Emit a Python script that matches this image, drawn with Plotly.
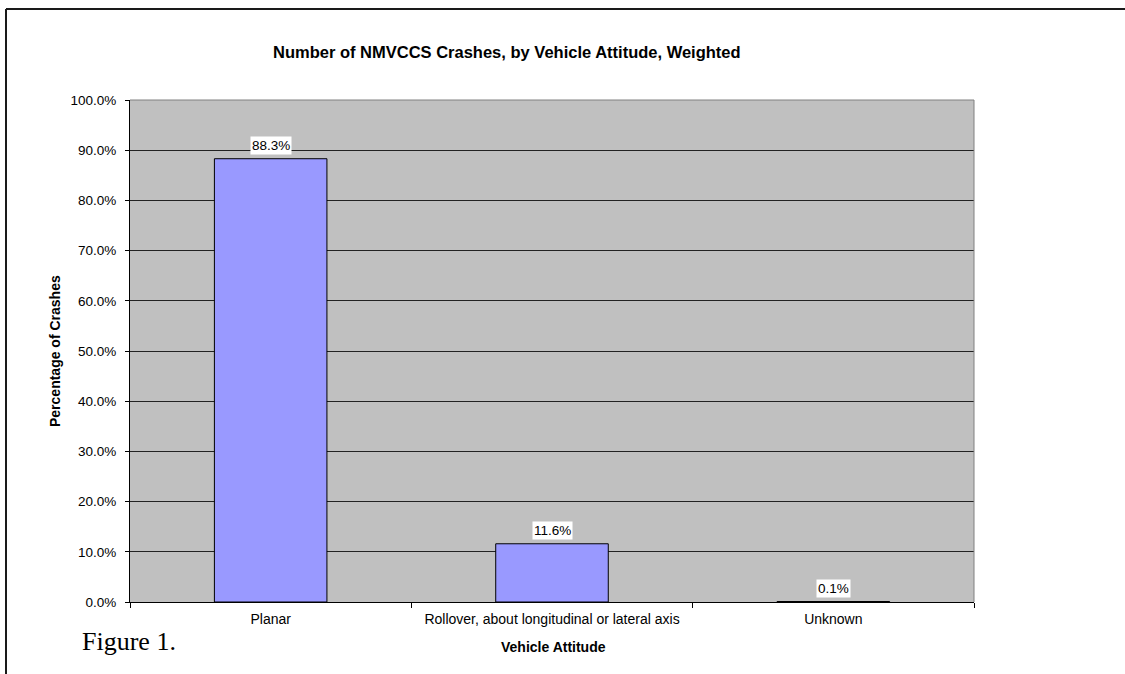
import plotly.graph_objects as go

categories = ["Planar", "Rollover, about longitudinal or lateral axis", "Unknown"]
percentages = [88.3, 11.6, 0.1]
y_tick_values = [0, 10, 20, 30, 40, 50, 60, 70, 80, 90, 100]
y_tick_labels = [f"{v:.1f}%" for v in y_tick_values]
data_labels = [f"{v:.1f}%" for v in percentages]

W, H = 1125, 674
L, R, T, B = 130, 151, 100, 72
PW, PH = W - L - R, H - T - B


def px(x):
    return (x - L) / PW


def py(y):
    return (H - B - y) / PH


FONT = "Arial, 'Liberation Sans', sans-serif"
FS = 14

fig = go.Figure()
fig.add_trace(go.Bar(
    x=categories, y=percentages, width=0.4,
    marker=dict(color="#9999FF", line=dict(color="#000000", width=1)),
    hoverinfo="x+y",
))

annotations = []
for c, v, t in zip(categories, percentages, data_labels):
    annotations.append(dict(
        x=c, y=v, xref="x", yref="y", text=t, showarrow=False,
        yanchor="bottom", yshift=4, bgcolor="#FFFFFF", borderpad=1,
        font=dict(family=FONT, size=13.5, color="#000000"),
    ))

annotations += [
    dict(x=px(507), y=py(52), xref="paper", yref="paper", showarrow=False,
         text="<b>Number of NMVCCS Crashes, by Vehicle Attitude, Weighted</b>",
         font=dict(family=FONT, size=16.5, color="#000000"), xanchor="center", yanchor="middle"),
    dict(x=px(55), y=0.5, xref="paper", yref="paper", showarrow=False, textangle=-90,
         text="<b>Percentage of Crashes</b>",
         font=dict(family=FONT, size=FS, color="#000000"), xanchor="center", yanchor="middle"),
    dict(x=px(553), y=py(647), xref="paper", yref="paper", showarrow=False,
         text="<b>Vehicle Attitude</b>",
         font=dict(family=FONT, size=FS, color="#000000"), xanchor="center", yanchor="middle"),
    dict(x=px(80), y=py(641), xref="paper", yref="paper", showarrow=False,
         text="Figure 1.",
         font=dict(family="'Times New Roman', 'Liberation Serif', serif", size=26, color="#000000"),
         xanchor="left", yanchor="middle"),
]

shapes = [
    dict(type="line", xref="paper", yref="paper", x0=px(6), x1=px(W + 5), y0=py(9), y1=py(9),
         line=dict(color="#1a1a1a", width=2)),
    dict(type="line", xref="paper", yref="paper", x0=px(6), x1=px(6), y0=py(9), y1=py(H + 5),
         line=dict(color="#1a1a1a", width=2)),
    dict(type="line", xref="paper", yref="paper", x0=0, x1=1, y0=1, y1=1,
         line=dict(color="#808080", width=1)),
    dict(type="line", xref="paper", yref="paper", x0=1, x1=1, y0=0, y1=1,
         line=dict(color="#808080", width=1)),
]

fig.update_layout(
    width=W, height=H,
    margin=dict(l=L, r=R, t=T, b=B, pad=0),
    paper_bgcolor="#FFFFFF", plot_bgcolor="#C0C0C0",
    showlegend=False, bargap=0.6,
    font=dict(family=FONT, size=FS, color="#000000"),
    annotations=annotations, shapes=shapes,
)
fig.update_xaxes(
    type="category", tickson="boundaries", ticks="outside", ticklen=5, tickcolor="#000000",
    showline=True, linecolor="#000000", linewidth=1, showgrid=False,
    tickfont=dict(family=FONT, size=FS), ticklabelstandoff=4,
)
fig.update_yaxes(
    range=[0, 100], tickvals=y_tick_values, ticktext=y_tick_labels,
    ticks="outside", ticklen=4, tickcolor="#000000",
    showline=True, linecolor="#000000", linewidth=1,
    showgrid=True, gridcolor="#222222", gridwidth=1, zeroline=False,
    tickfont=dict(family=FONT, size=13.5), ticklabelstandoff=6,
)

fig.write_html("out.html", config={"displayModeBar": False},
               post_script="document.body.style.margin='0';")
